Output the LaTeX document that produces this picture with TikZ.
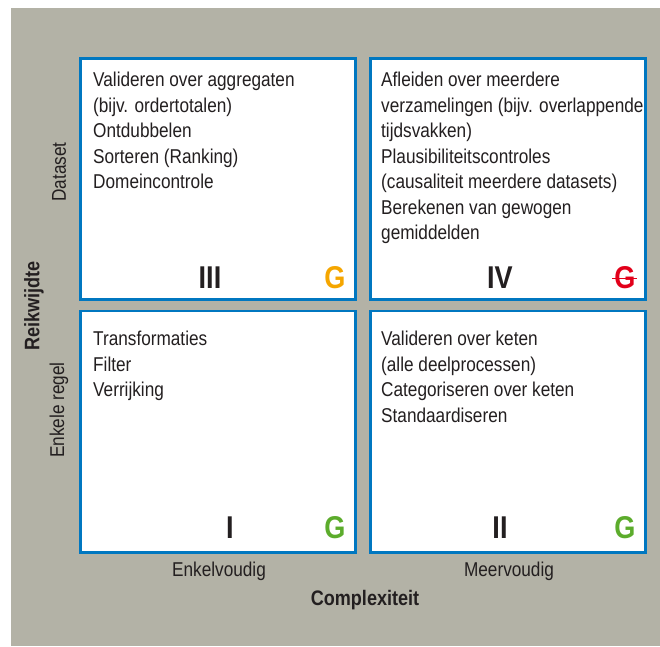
\documentclass[tikz,border=0pt]{standalone}
\usepackage{fontspec}
\setmainfont{Liberation Sans}[FakeStretch=0.86]
\definecolor{bggray}{RGB}{179,178,166}
\definecolor{boxblue}{RGB}{0,119,192}
\definecolor{txt}{RGB}{35,31,32}
\definecolor{gorange}{RGB}{245,166,0}
\definecolor{gred}{RGB}{226,0,26}
\definecolor{ggreen}{RGB}{92,172,44}
\begin{document}
\begin{tikzpicture}[x=1pt,y=-1pt,
  quad/.style={draw=boxblue,fill=white,line width=2.7pt,minimum width=275.3pt,minimum height=241.3pt,inner sep=0pt,outer sep=0pt},
  listtext/.style={anchor=north west,inner sep=0pt,align=left,text=txt,font=\fontsize{20}{25.5}\selectfont},
  numeral/.style={inner sep=0pt,text=txt,font=\fontsize{31.5}{32}\selectfont\bfseries},
  grade/.style={inner sep=0pt,font=\fontsize{31.5}{32}\selectfont\bfseries},
  axislbl/.style={inner sep=0pt,text=txt,font=\fontsize{20}{22}\selectfont},
  axistitle/.style={inner sep=0pt,text=txt,font=\fontsize{21}{24}\selectfont\bfseries}]
\useasboundingbox (0,0) rectangle (660,646);
\fill[bggray] (11,8) rectangle (660,646);
% quadrants
\node[quad] (q3) at (218,179) {};
\node[quad] (q4) at (508,179) {};
\node[quad] (q1) at (218,431.5) {};
\node[quad] (q2) at (508,431.5) {};
% texts
\node[listtext] (t3) at (93,72) {Valideren over aggregaten\\(bijv. ordertotalen)\\Ontdubbelen\\Sorteren (Ranking)\\Domeincontrole};
\node[listtext] (t4) at (381,72) {Afleiden over meerdere\\verzamelingen (bijv. overlappende\\tijdsvakken)\\Plausibiliteitscontroles\\(causaliteit meerdere datasets)\\Berekenen van gewogen\\gemiddelden};
\node[listtext] (t1) at (93,331) {Transformaties\\Filter\\Verrijking};
\node[listtext] (t2) at (381,331) {Valideren over keten\\(alle deelprocessen)\\Categoriseren over keten\\Standaardiseren};
% numerals and grades
\node[numeral] (n3) at (210,278) {III};
\node[grade,text=gorange] (g3) at (335,278) {G};
\node[numeral] (n4) at (500,278) {IV};
\node[grade,text=gred] (g4) at (625,278) {G};
\draw[gred,line width=1pt] ([xshift=-2pt]g4.west |- g4.center) -- ([xshift=1pt]g4.east |- g4.center);
\node[numeral] (n1) at (230,528) {I};
\node[grade,text=ggreen] (g1) at (335,528) {G};
\node[numeral] (n2) at (500,528) {II};
\node[grade,text=ggreen] (g2) at (625,528) {G};
% axes
\node[axislbl,rotate=90] (ds) at (59,172) {Dataset};
\node[axislbl,rotate=90] (er) at (59,410) {Enkele regel};
\node[axistitle,rotate=90] (rk) at (34,306) {Reikwijdte};
\node[axislbl] (ev) at (219,571) {Enkelvoudig};
\node[axislbl] (mv) at (509,571) {Meervoudig};
\node[axistitle] (cx) at (365,600) {Complexiteit};
\end{tikzpicture}
\end{document}
